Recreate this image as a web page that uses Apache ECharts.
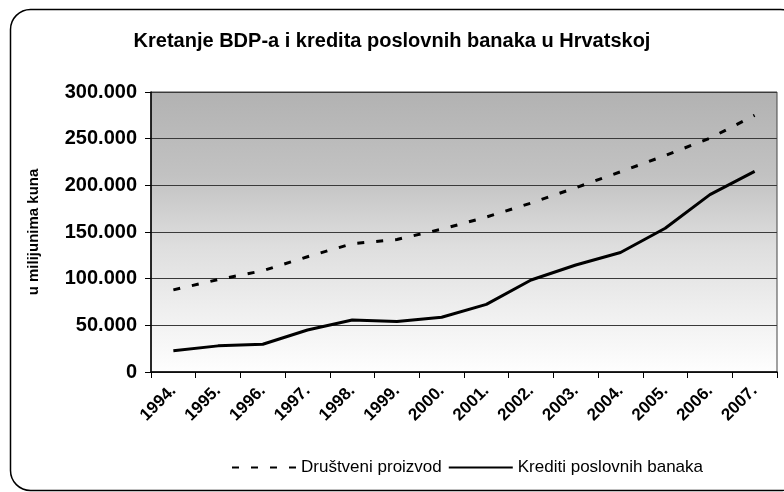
<!DOCTYPE html>
<html>
<head>
<meta charset="utf-8">
<script src="https://cdn.jsdelivr.net/npm/echarts@6/dist/echarts.min.js"></script>
<style>
html,body{margin:0;padding:0;background:#fff;}
#c{width:784px;height:492px;}
</style>
</head>
<body>
<div id="c"></div>
<script>
const titleText = 'Kretanje BDP-a i kredita poslovnih banaka u Hrvatskoj';
const yAxisName = 'u milijunima kuna';
const years = ['1994.','1995.','1996.','1997.','1998.','1999.','2000.','2001.','2002.','2003.','2004.','2005.','2006.','2007.'];
const seriesNames = ['Društveni proizvod', 'Krediti poslovnih banaka'];
const gdp = [88000, 99000, 108500, 123500, 137500, 142000, 153000, 166000, 181000, 197500, 214500, 232000, 250500, 275000];
const credits = [22800, 28000, 29700, 45000, 55700, 54000, 58600, 72500, 98600, 114600, 128000, 154000, 190000, 215000];

const FONT = '"Liberation Sans", Arial, sans-serif';
const chart = echarts.init(document.getElementById('c'), null, {renderer: 'canvas'});
function fmt(v){ return String(v).replace(/\B(?=(\d{3})+(?!\d))/g, '.'); }

chart.setOption({
  backgroundColor: '#fff',
  animation: false,
  graphic: [{
    type: 'rect',
    shape: {x: 10.5, y: 9.5, width: 790, height: 481, r: 20},
    style: {fill: 'none', stroke: '#000', lineWidth: 1.5},
    z: -1
  }],
  title: {
    text: titleText,
    left: 'center',
    top: 26,
    textStyle: {fontFamily: FONT, fontSize: 20, fontWeight: 'bold', color: '#000'}
  },
  legend: {
    left: 226,
    top: 454,
    itemWidth: 64,
    itemHeight: 14,
    itemGap: 6,
    itemStyle: {opacity: 0, borderWidth: 0},
    textStyle: {fontFamily: FONT, fontSize: 17, color: '#000'},
    data: seriesNames
  },
  grid: {
    left: 151, right: 7, top: 92, bottom: 120,
    show: true,
    borderColor: '#444',
    borderWidth: 1,
    backgroundColor: {
      type: 'linear', x: 0, y: 0, x2: 0, y2: 1,
      colorStops: [
        {offset: 0, color: '#b2b2b2'},
        {offset: 0.3, color: '#c2c2c2'},
        {offset: 0.55, color: '#dedede'},
        {offset: 0.78, color: '#efefef'},
        {offset: 1, color: '#fefefe'}
      ]
    }
  },
  xAxis: {
    type: 'category',
    data: years,
    boundaryGap: true,
    axisLine: {lineStyle: {color: '#000', width: 1.5}},
    axisTick: {show: true, length: 6, inside: false, lineStyle: {color: '#000'}},
    axisLabel: {
      rotate: 45, margin: 16, interval: 0,
      fontFamily: FONT, fontSize: 17, fontWeight: 'bold', color: '#000'
    },
    splitLine: {show: false}
  },
  yAxis: {
    type: 'value',
    min: 0, max: 300000, interval: 50000,
    name: yAxisName,
    nameLocation: 'middle',
    nameGap: 110,
    nameRotate: 90,
    nameTextStyle: {fontFamily: FONT, fontSize: 15, fontWeight: 'bold', color: '#000'},
    axisLine: {show: true, lineStyle: {color: '#000', width: 1.5}},
    axisTick: {show: true, length: 6, lineStyle: {color: '#000'}},
    axisLabel: {
      margin: 14,
      formatter: fmt,
      fontFamily: FONT, fontSize: 20, fontWeight: 'bold', color: '#000'
    },
    splitLine: {show: true, lineStyle: {color: '#3a3a3a', width: 1}}
  },
  series: [
    {
      name: seriesNames[0], type: 'line', data: gdp,
      symbol: 'none',
      lineStyle: {color: '#000', width: 3, type: [7, 12]},
      itemStyle: {color: '#000'}
    },
    {
      name: seriesNames[1], type: 'line', data: credits,
      symbol: 'none',
      lineStyle: {color: '#000', width: 3, type: 'solid'},
      itemStyle: {color: '#000'}
    }
  ]
});
</script>
</body>
</html>
